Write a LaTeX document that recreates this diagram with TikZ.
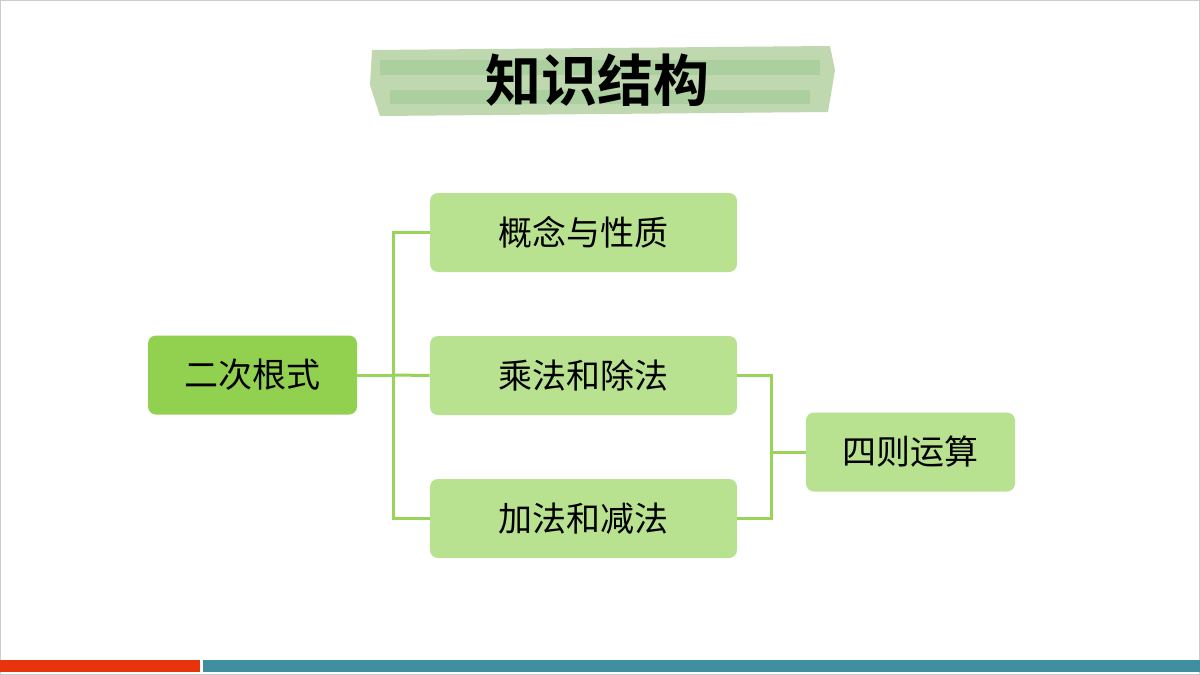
\documentclass[tikz,border=0pt]{standalone}
\usepackage{fontspec}
\newfontfamily\cjk{Noto Sans CJK SC}
\newfontfamily\cjkb{Noto Sans CJK SC Bold}
\definecolor{dg}{HTML}{92D050}
\definecolor{lg}{HTML}{B8E290}
\definecolor{ln}{HTML}{98D45A}
\definecolor{brush}{HTML}{BFD8B0}
\definecolor{rbar}{HTML}{E8340C}
\definecolor{tbar}{HTML}{3F8FA0}
\tikzset{
 box/.style={rounded corners=4pt, minimum width=153.5pt, minimum height=39.5pt, fill=lg, font=\cjk\fontsize{17}{20}\selectfont, inner sep=0pt},
 conn/.style={draw=ln, line width=1.5pt}
}
\begin{document}
\begin{tikzpicture}[x=0.5pt,y=-0.5pt]
\useasboundingbox (0,0) rectangle (1200,675);
\fill[white] (0,0) rectangle (1200,675);
\draw[gray!40, line width=0.5pt] (0.5,0.5) rectangle (1199.5,674.5);
% brush title
\fill[brush] (372,50) -- (830,46) -- (835,70) -- (828,112) -- (380,116) -- (370,85) -- cycle;
\fill[brush!70!green!60!gray, opacity=0.3] (380,60) rectangle (820,75);
\fill[brush!70!green!60!gray, opacity=0.3] (390,90) rectangle (810,104);
\node[font=\cjkb\fontsize{28}{32}\selectfont] (title) at (597,80) {知识结构};
% boxes
\node[box, fill=dg, minimum width=104.5pt] (root) at (252.5,375) {二次根式};
\node[box] (a) at (583.5,232.5) {概念与性质};
\node[box] (b) at (583.5,375.5) {乘法和除法};
\node[box] (c) at (583.5,518.5) {加法和减法};
\node[box, minimum width=104.5pt] (d) at (910.5,452) {四则运算};
\coordinate (j1) at (393,375);
\coordinate (j2) at (771,452);
\draw[conn] (root.east) -- (j1);
\draw[conn] (a.west) -| (j1) |- (c.west);
\draw[conn] (j1) -- (b.west);
\draw[conn] (b.east) -| (j2) |- (c.east);
\draw[conn] (j2) -- (d.west);
% bottom bars
\fill[rbar] (0,660) rectangle (200,672);
\fill[tbar] (203,660) rectangle (1200,672);
\end{tikzpicture}
\end{document}
